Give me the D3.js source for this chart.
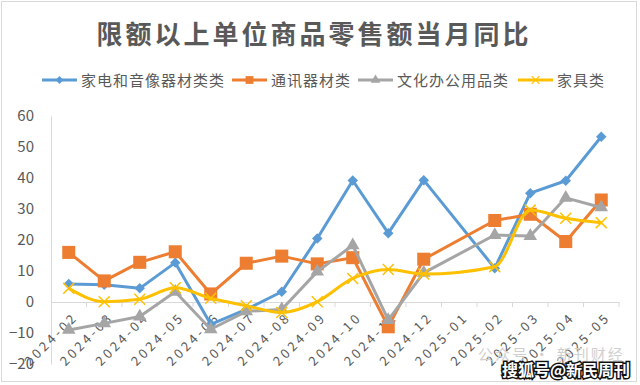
<!DOCTYPE html>
<html>
<head>
<meta charset="utf-8">
<script src="https://cdn.jsdelivr.net/npm/d3@7"></script>
<style>
  body { margin: 0; background: #fff; }
  text { font-family: "Noto Sans CJK SC", "Noto Sans", sans-serif; }
</style>
</head>
<body>
<div id="chart"></div>
<script>
const months = ["2024-02","2024-03","2024-04","2024-05","2024-06","2024-07","2024-08","2024-09",
  "2024-10","2024-11","2024-12","2025-01","2025-02","2025-03","2025-04","2025-05"];

const appliance = [5.8, 5.6, 4.4, 12.7, -7.2, -2.4, 3.3, 20.5, 39.2, 22.2, 39.3, null, 10.9, 35.1, 39.1, 53.3];
const telecom   = [16.0, 6.8, 12.8, 16.2, 2.6, 12.5, 14.8, 12.3, 14.3, -8.0, 13.8, null, 26.3, 28.3, 19.5, 32.9];
const office    = [-9.0, -6.9, -4.7, 3.3, -8.8, -3.0, -2.4, 9.8, 18.3, -5.8, 9.4, null, 21.6, 21.3, 33.6, 30.5];
const furniture = [4.4, 0.1, 0.9, 4.6, 1.2, -1.2, -3.4, 0.1, 7.6, 10.5, 9.0, null, 11.4, 29.7, 27.0, 25.6];

const yTicks = [-20, -10, 0, 10, 20, 30, 40, 50, 60];

const series = [
  { name: "家电和音像器材类类", values: appliance, color: "#5B9BD5", marker: "diamond", smooth: false },
  { name: "通讯器材类", values: telecom, color: "#ED7D31", marker: "square", smooth: false },
  { name: "文化办公用品类", values: office, color: "#A5A5A5", marker: "triangle", smooth: false },
  { name: "家具类", values: furniture, color: "#FFC000", marker: "cross", smooth: true }
];

const width = 640, height = 385;
const svg = d3.select("#chart").append("svg")
  .attr("width", width)
  .attr("height", height);

// outer border
svg.append("rect")
  .attr("x", 1.5).attr("y", 1.5)
  .attr("width", 635).attr("height", 380)
  .attr("fill", "#fff")
  .attr("stroke", "#d9d9d9");

// title
svg.append("text")
  .attr("x", 314).attr("y", 44)
  .attr("text-anchor", "middle")
  .attr("fill", "#595959")
  .style("font-size", "26px")
  .style("font-weight", "bold")
  .style("letter-spacing", "3px")
  .text("限额以上单位商品零售额当月同比");

const x = d3.scaleBand()
  .domain(months)
  .range([51, 619]);

const y = d3.scaleLinear()
  .domain([-20, 60])
  .range([364, 116]);

// y axis
const yAxis = svg.append("g")
  .attr("transform", "translate(51,0)")
  .call(d3.axisLeft(y).tickValues(yTicks).tickSize(0).tickPadding(17));
yAxis.select(".domain").attr("stroke", "#d9d9d9");
yAxis.selectAll("text")
  .attr("fill", "#595959")
  .style("font-size", "15px");

// x axis along zero
const y0 = y(0);
const xAxis = svg.append("g")
  .attr("transform", `translate(0,${y0})`)
  .call(d3.axisBottom(x).tickSize(0).tickSizeOuter(0));
xAxis.select(".domain").attr("stroke", "#d9d9d9");
xAxis.selectAll("text")
  .attr("fill", "#595959")
  .style("font-size", "13px")
  .style("letter-spacing", "3px")
  .attr("text-anchor", "end")
  .attr("dy", null)
  .attr("y", 0)
  .attr("transform", "translate(10,16) rotate(-45)");

// tick marks between categories
svg.append("g").selectAll("line")
  .data(months)
  .enter()
  .append("line")
  .attr("x1", d => x(d) + x.bandwidth())
  .attr("x2", d => x(d) + x.bandwidth())
  .attr("y1", y0)
  .attr("y2", y0 + 5)
  .attr("stroke", "#d9d9d9");

const markerPath = {
  diamond: d3.symbol().type(d3.symbolDiamond2).size(70),
  square: d3.symbol().type(d3.symbolSquare).size(170),
  triangle: d3.symbol().type(d3.symbolTriangle).size(80),
  cross: d3.symbol().type(d3.symbolX).size(80)
};

const plot = svg.append("g");

series.forEach(s => {
  const pts = months.map((m, i) => ({ m, v: s.values[i] })).filter(d => d.v !== null);
  const line = d3.line()
    .x(d => x(d.m) + x.bandwidth() / 2)
    .y(d => y(d.v))
    .curve(s.smooth ? d3.curveMonotoneX : d3.curveLinear);

  plot.append("path")
    .datum(pts)
    .attr("d", line)
    .attr("fill", "none")
    .attr("stroke", s.color)
    .attr("stroke-width", 3)
    .attr("stroke-linejoin", "round");

  plot.selectAll(".m-" + s.marker)
    .data(pts)
    .enter()
    .append("path")
    .attr("class", "m-" + s.marker)
    .attr("d", markerPath[s.marker])
    .attr("transform", d => `translate(${x(d.m) + x.bandwidth() / 2},${y(d.v)})`)
    .attr("fill", s.marker === "cross" ? "none" : s.color)
    .attr("stroke", s.color)
    .attr("stroke-width", s.marker === "cross" ? 1.5 : 0);
});

// legend
const legendX = [42, 232, 358, 518];
const legend = svg.append("g");
series.forEach((s, i) => {
  const g = legend.append("g").attr("transform", `translate(${legendX[i]},80)`);
  g.append("line")
    .attr("x1", 0).attr("x2", 35)
    .attr("y1", 0).attr("y2", 0)
    .attr("stroke", s.color)
    .attr("stroke-width", 3);
  g.append("path")
    .attr("d", d3.symbol().type(
      s.marker === "diamond" ? d3.symbolDiamond2 :
      s.marker === "square" ? d3.symbolSquare :
      s.marker === "triangle" ? d3.symbolTriangle : d3.symbolX).size(s.marker === "square" ? 60 : 40))
    .attr("transform", "translate(17.5,0)")
    .attr("fill", s.marker === "cross" ? "none" : s.color)
    .attr("stroke", s.color)
    .attr("stroke-width", s.marker === "cross" ? 1.2 : 0);
  g.append("text")
    .attr("x", 39).attr("y", 5.5)
    .attr("fill", "#595959")
    .style("font-size", "15px")
    .style("letter-spacing", "1px")
    .text(s.name);
});

// watermarks
svg.append("text")
  .attr("x", 478).attr("y", 360)
  .attr("fill", "#d0d0d0")
  .style("font-size", "15px")
  .style("letter-spacing", "2px")
  .text("公众号 · 新刊财经");

svg.append("text")
  .attr("x", 502).attr("y", 376)
  .attr("fill", "#fff")
  .attr("stroke", "#111")
  .attr("stroke-width", 3)
  .attr("paint-order", "stroke")
  .style("font-size", "16px")
  .style("font-weight", "bold")
  .text("搜狐号@新民周刊");
</script>
</body>
</html>
